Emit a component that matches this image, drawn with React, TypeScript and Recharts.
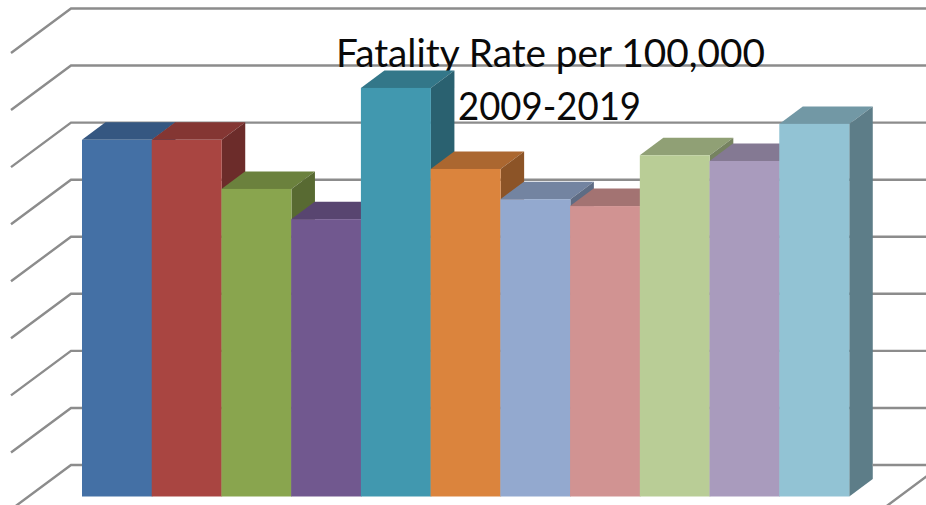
import React from 'react';
import { BarChart, Bar, XAxis, YAxis, CartesianGrid, ReferenceLine } from 'recharts';

const years = ['2009', '2010', '2011', '2012', '2013', '2014', '2015', '2016', '2017', '2018', '2019'];
const rates = [6.25, 6.25, 5.39, 4.86, 7.16, 5.74, 5.21, 5.09, 5.98, 5.88, 6.53];
const yTicks = [1, 2, 3, 4, 5, 6, 7, 8];
const titleLines = ['Fatality Rate per 100,000', '2009-2019'];

const colors = ['#4470a5', '#a94541', '#89a54e', '#71588f', '#4198af', '#db843d', '#93a9cf', '#d19392', '#b9cd96', '#a99bbd', '#92c3d4'];

const data = years.map((year, i) => ({ year, rate: rates[i] }));

// 3d box depth of the bars
const DEPTH_X = 23.5;
const DEPTH_Y = 17.5;
// back wall sits this far behind the plane of the bar fronts
const WALL_X = 11;
const WALL_Y = 31.5;
// side wall / floor edge
const SIDE_X = 60;
const SIDE_Y = 44.5;
const gridStroke = { stroke: '#8c8c8c', strokeWidth: 2.4, fill: 'none' };

const shade = (hex: string, f: number) => {
    const n = parseInt(hex.slice(1), 16);
    const c = (v: number) => Math.round(v * f);
    return `rgb(${c((n >> 16) & 255)},${c((n >> 8) & 255)},${c(n & 255)})`;
};

const Box3D = (props: any) => {
    const { x, y, width, height, index } = props;
    const color = colors[index];
    const r = x + width;
    const b = y + height;
    return (
        <g>
            <polygon
                points={`${x},${y} ${x + DEPTH_X},${y - DEPTH_Y} ${r + DEPTH_X},${y - DEPTH_Y} ${r},${y}`}
                fill={shade(color, 0.78)}
            />
            <polygon
                points={`${r},${y} ${r + DEPTH_X},${y - DEPTH_Y} ${r + DEPTH_X},${b - DEPTH_Y} ${r},${b}`}
                fill={shade(color, 0.64)}
            />
            <rect x={x} y={y} width={width} height={height} fill={color} />
        </g>
    );
};

const WallLine = (props: any) => {
    const { x1, x2, y1, index } = props;
    const wx = x1 - WALL_X;
    const wy = y1 - WALL_Y;
    return (
        <g key={index}>
            <polyline points={`${wx - SIDE_X},${wy + SIDE_Y} ${wx},${wy} ${x2 + 93},${wy}`} {...gridStroke} />
        </g>
    );
};

// floor hangs on the value 0 line. reference lines paint over the bars,
// so only the parts that stick out past the boxes are drawn
const FloorLine = (props: any) => {
    const { x1, x2, y1 } = props;
    const wx = x1 - WALL_X;
    const wy = y1 - WALL_Y;
    return (
        <g>
            <polyline points={`${wx - SIDE_X},${wy + SIDE_Y} ${wx},${wy} ${x1},${wy}`} {...gridStroke} />
            <polyline
                points={`${x2 + DEPTH_X},${wy} ${x2 + 93},${wy} ${x2 + 93 - SIDE_X},${wy + SIDE_Y}`}
                {...gridStroke}
            />
        </g>
    );
};

export default function App() {
    return (
        <div style={{ position: 'absolute', left: 0, top: 0, width: 926, height: 505, overflow: 'hidden', background: '#fff' }}>
            <BarChart
                width={926}
                height={505}
                data={data}
                barCategoryGap={0}
                margin={{ top: 40, right: 77, bottom: 2.8, left: 82 }}
            >
                <XAxis dataKey="year" hide />
                <YAxis hide domain={[-0.1, 8]} ticks={yTicks} />
                <CartesianGrid vertical={false} horizontal={WallLine} syncWithTicks />
                <ReferenceLine y={0} shape={FloorLine} />
                <Bar dataKey="rate" shape={Box3D} isAnimationActive={false} />
                <text x={550.5} y={67} textAnchor="middle" fontFamily="Lato" fontSize={38} textLength={429} lengthAdjust="spacingAndGlyphs" fill="#0a0a0a">{titleLines[0]}</text>
                <text x={549.5} y={120} textAnchor="middle" fontFamily="Lato" fontSize={38} textLength={183} lengthAdjust="spacingAndGlyphs" fill="#0a0a0a">{titleLines[1]}</text>
            </BarChart>
        </div>
    );
}
